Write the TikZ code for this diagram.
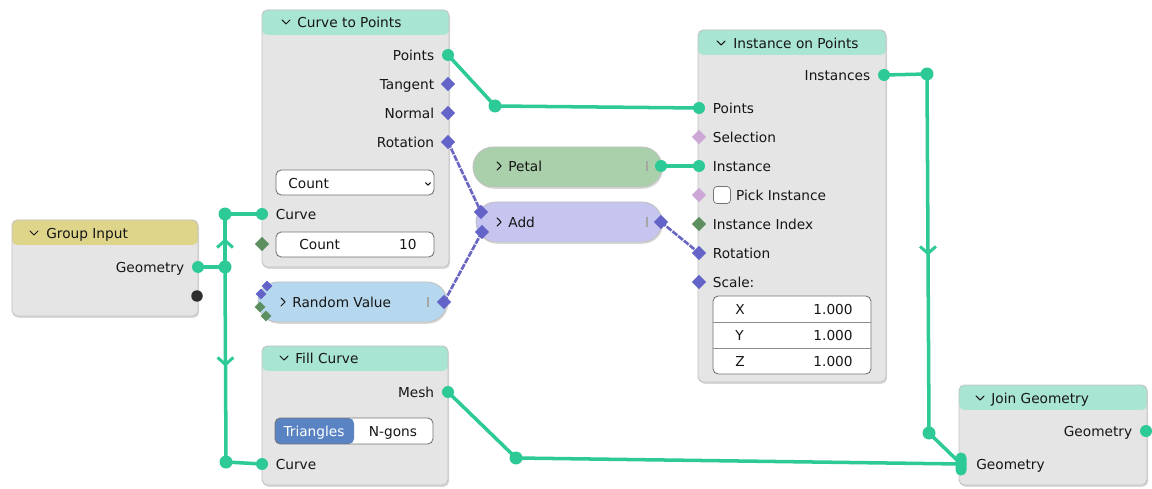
\documentclass[tikz,border=0pt]{standalone}
\usepackage{fontspec}
\setmainfont{DejaVu Sans}
\usetikzlibrary{shapes.geometric,positioning,fit,shadows,decorations.markings}

\definecolor{bodygray}{HTML}{E5E5E5}
\definecolor{framegray}{HTML}{C2C2C2}
\definecolor{headmint}{HTML}{A9E5D3}
\definecolor{headkhaki}{HTML}{DED58B}
\definecolor{petalgreen}{HTML}{A9CFAB}
\definecolor{addlilac}{HTML}{C6C5F0}
\definecolor{randblue}{HTML}{B5D8EF}
\definecolor{geolink}{HTML}{2DC997}
\definecolor{fieldlink}{HTML}{6A67C2}
\definecolor{sockvec}{HTML}{6464C8}
\definecolor{sockbool}{HTML}{CDA8D6}
\definecolor{sockint}{HTML}{5D8E60}
\definecolor{triblue}{HTML}{5A83C4}
\definecolor{labeltext}{HTML}{161616}

\pgfdeclarelayer{background}
\pgfdeclarelayer{wires}
\pgfsetlayers{background,wires,main}

\begin{document}
\begin{tikzpicture}[
    x=0.02cm, y=-0.02cm,
    txt/.style={font=\fontsize{7.8}{9}\selectfont, text=labeltext, inner sep=0pt, text height=5.7pt, text depth=0pt},
    gnode/.style={draw=framegray, line width=0.5pt, fill=bodygray, rounded corners=3pt, inner sep=0pt,
        drop shadow={shadow xshift=0.6pt, shadow yshift=-1pt, opacity=0.3}},
    head/.style={path picture={\fill[#1] (path picture bounding box.north west) rectangle ([yshift=-0.5cm]path picture bounding box.north east);}},
    collapsed/.style={gnode, rounded corners=0.4cm, fill=#1},
    field/.style={draw=black!55, fill=white, rounded corners=3pt, inner sep=0pt, line width=0.5pt},
    checkbox/.style={draw=black!55, fill=white, rounded corners=2pt, minimum size=0.34cm, inner sep=0pt},
    geosocket/.style={circle, fill=geolink, minimum size=0.24cm, inner sep=0pt},
    blacksocket/.style={circle, fill=black!82, minimum size=0.23cm, inner sep=0pt},
    multisocket/.style={rectangle, rounded corners=3pt, fill=geolink, minimum width=0.22cm, minimum height=0.46cm, inner sep=0pt},
    vecsocket/.style={diamond, fill=sockvec, minimum size=0.29cm, inner sep=0pt},
    boolsocket/.style={diamond, fill=sockbool, minimum size=0.29cm, inner sep=0pt},
    intsocket/.style={diamond, fill=sockint, minimum size=0.29cm, inner sep=0pt},
    reroute/.style={circle, fill=geolink, minimum size=0.26cm, inner sep=0pt},
    wire/.style={draw=geolink, line width=2pt},
    fieldwire/.style={draw=fieldlink, line width=1.5pt, dash pattern=on 3.5pt off 0.7pt},
    flow/.style={postaction={decorate}, decoration={markings, mark=at position 0.5 with
        {\draw[geolink, line width=1.7pt] (-4pt,-4.5pt) -- (0pt,0pt) -- (-4pt,4.5pt);}}},
    grip/.style={draw=black!35, line width=0.8pt},
    rowline/.style={draw=black!45, line width=0.5pt},
    chevdown/.pic={\draw[labeltext, line width=0.6pt, line cap=round, line join=round] (-4,-2) -- (0,2) -- (4,-2);},
    chevright/.pic={\draw[labeltext, line width=0.6pt, line cap=round, line join=round] (-2,-4) -- (2,0) -- (-2,4);}
]

\begin{pgfonlayer}{background}
\fill[white] (0,0) rectangle (1152,489);
\end{pgfonlayer}
\useasboundingbox (0,0) rectangle (1152,489);

% Group Input
\node[gnode, head=headkhaki, fit={(12,220) (198,316)}] (gin) {};
\pic at (34,233) {chevdown};
\node[txt, anchor=west] (ginTitle) at (46,233) {Group Input};
\node[geosocket] (ginGeo) at (198,267) {};
\node[txt, left=0.27cm of ginGeo.center] (ginGeoL) {Geometry};
\node[blacksocket] (ginExtra) at (197,296) {};

% Curve to Points
\node[gnode, head=headmint, fit={(262,10) (449,267)}] (ctp) {};
\pic at (286,22) {chevdown};
\node[txt, anchor=west] (ctpTitle) at (297,22) {Curve to Points};
\node[geosocket] (ctpPoints) at (448,55) {};
\node[vecsocket] (ctpTangent) at (448,84) {};
\node[vecsocket] (ctpNormal) at (448,113) {};
\node[vecsocket] (ctpRotation) at (448,142) {};
\node[txt, left=0.27cm of ctpPoints.center] (ctpPointsL) {Points};
\node[txt, left=0.27cm of ctpTangent.center] (ctpTangentL) {Tangent};
\node[txt, left=0.27cm of ctpNormal.center] (ctpNormalL) {Normal};
\node[txt, left=0.27cm of ctpRotation.center] (ctpRotationL) {Rotation};
\node[field, fit={(276,170) (434,195)}] (ctpMode) {};
\node[txt, anchor=west] (ctpModeL) at (288,183) {Count};
\pic[scale=0.6] at (428,184) {chevdown};
\node[geosocket] (ctpCurve) at (262,214) {};
\node[txt, right=0.27cm of ctpCurve.center] (ctpCurveL) {Curve};
\node[intsocket] (ctpCount) at (262,244) {};
\node[field, fit={(276,232) (434,257)}] (ctpCountBox) {};
\node[txt, anchor=west] (ctpCountL) at (299,244) {Count};
\node[txt, anchor=east] (ctpCountV) at (417,244) {10};

% Random Value (collapsed)
\node[collapsed=randblue, fit={(258,282) (447,322)}] (rnd) {};
\pic at (283,302) {chevright};
\node[txt, anchor=west] (rndTitle) at (292,302) {Random Value};
\draw[grip] (428,297) -- (428,307);
\node[vecsocket] (rndOut) at (444,302) {};
\node[vecsocket, minimum size=0.22cm] (rndInA) at (267,286) {};
\node[vecsocket, minimum size=0.22cm] (rndInB) at (261,294) {};
\node[intsocket, minimum size=0.22cm] (rndInC) at (260,307) {};
\node[intsocket, minimum size=0.22cm] (rndInD) at (266,316) {};

% Petal (collapsed)
\node[collapsed=petalgreen, fit={(473,147) (662,187)}] (petal) {};
\pic at (499,166) {chevright};
\node[txt, anchor=west] (petalTitle) at (508,166) {Petal};
\draw[grip] (647,161) -- (647,171);
\node[geosocket] (petalOut) at (661,166) {};

% Add (collapsed)
\node[collapsed=addlilac, fit={(476,202) (662,242)}] (add) {};
\pic at (499,222) {chevright};
\node[txt, anchor=west] (addTitle) at (508,222) {Add};
\draw[grip] (647,217) -- (647,227);
\node[vecsocket] (addInA) at (481,212) {};
\node[vecsocket] (addInB) at (482,232) {};
\node[vecsocket] (addOut) at (661,222) {};

% Instance on Points
\node[gnode, head=headmint, fit={(698,30) (886,382)}] (iop) {};
\pic at (721,43) {chevdown};
\node[txt, anchor=west] (iopTitle) at (733,43) {Instance on Points};
\node[geosocket] (iopInstances) at (884,75) {};
\node[txt, left=0.27cm of iopInstances.center] (iopInstancesL) {Instances};
\node[geosocket] (iopPoints) at (699,108) {};
\node[boolsocket] (iopSelection) at (699,137) {};
\node[geosocket] (iopInstance) at (699,166) {};
\node[boolsocket] (iopPick) at (699,195) {};
\node[intsocket] (iopIndex) at (699,224) {};
\node[vecsocket] (iopRotation) at (699,253) {};
\node[vecsocket] (iopScale) at (699,282) {};
\node[txt, right=0.27cm of iopPoints.center] (iopPointsL) {Points};
\node[txt, right=0.27cm of iopSelection.center] (iopSelectionL) {Selection};
\node[txt, right=0.27cm of iopInstance.center] (iopInstanceL) {Instance};
\node[checkbox] (iopPickBox) at (722,195) {};
\node[txt, right=0.1cm of iopPickBox.east] (iopPickL) {Pick Instance};
\node[txt, right=0.27cm of iopIndex.center] (iopIndexL) {Instance Index};
\node[txt, right=0.27cm of iopRotation.center] (iopRotationL) {Rotation};
\node[txt, right=0.27cm of iopScale.center] (iopScaleL) {Scale:};
\node[field, fit={(713,296) (871,374)}] (iopXYZ) {};
\draw[rowline] (713,322) -- (871,322);
\draw[rowline] (713,348) -- (871,348);
\node[txt, anchor=west] (iopXL) at (735,309) {X};
\node[txt, anchor=west] (iopYL) at (735,335) {Y};
\node[txt, anchor=west] (iopZL) at (735,361) {Z};
\node[txt, anchor=east] (iopXV) at (853,309) {1.000};
\node[txt, anchor=east] (iopYV) at (853,335) {1.000};
\node[txt, anchor=east] (iopZV) at (853,361) {1.000};

% Fill Curve
\node[gnode, head=headmint, fit={(262,346) (448,485)}] (fill) {};
\pic at (284,358) {chevdown};
\node[txt, anchor=west] (fillTitle) at (295,358) {Fill Curve};
\node[geosocket] (fillMesh) at (448,392) {};
\node[txt, left=0.27cm of fillMesh.center] (fillMeshL) {Mesh};
\node[field, fit={(275,418) (433,444)},
      path picture={\fill[triblue] (path picture bounding box.south west) rectangle (path picture bounding box.north);}] (fillMode) {};
\node[txt, text=white] (fillTri) at (314,431) {Triangles};
\node[txt] (fillNgon) at (393,431) {N-gons};
\node[geosocket] (fillCurve) at (262,464) {};
\node[txt, right=0.27cm of fillCurve.center] (fillCurveL) {Curve};

% Join Geometry
\node[gnode, head=headmint, fit={(959,385) (1147,485)}] (join) {};
\pic at (980,398) {chevdown};
\node[txt, anchor=west] (joinTitle) at (991,398) {Join Geometry};
\node[geosocket] (joinOut) at (1146,431) {};
\node[txt, left=0.27cm of joinOut.center] (joinOutL) {Geometry};
\node[multisocket] (joinIn) at (961,464) {};
\node[txt, right=0.3cm of joinIn.center] (joinInL) {Geometry};

% reroute dots
\node[reroute] (rrGeo) at (225,267) {};
\node[reroute] (rrCurve) at (225,214) {};
\node[reroute] (rrFill) at (226,462) {};
\node[reroute] (rrPoints) at (495,106) {};
\node[reroute] (rrInst) at (927,74) {};
\node[reroute] (rrJoin) at (929,433) {};
\node[reroute] (rrMesh) at (516,458) {};

% links
\begin{pgfonlayer}{wires}
\draw[wire] (ginGeo.center) -- (rrGeo.center);
\draw[wire, flow] (rrGeo.center) -- (rrCurve.center);
\draw[wire] (rrCurve.center) -- (ctpCurve.center);
\draw[wire, flow] (rrGeo.center) -- (rrFill.center);
\draw[wire] (rrFill.center) -- (fillCurve.center);
\draw[wire] (ctpPoints.center) -- (rrPoints.center) -- (iopPoints.center);
\draw[wire] (petalOut.center) -- (iopInstance.center);
\draw[wire] (iopInstances.center) -- (rrInst.center);
\draw[wire, flow] (rrInst.center) -- (rrJoin.center);
\draw[wire] (rrJoin.center) -- (joinIn.center);
\draw[wire] (fillMesh.center) -- (rrMesh.center) -- (joinIn.center);
\draw[fieldwire] (ctpRotation.center) -- (addInA.center);
\draw[fieldwire] (rndOut.center) -- (addInB.center);
\draw[fieldwire] (addOut.center) -- (iopRotation.center);
\end{pgfonlayer}

\end{tikzpicture}
\end{document}
